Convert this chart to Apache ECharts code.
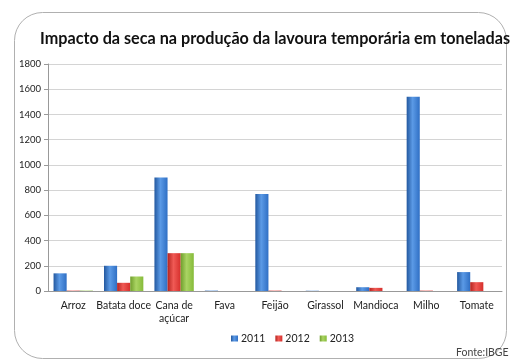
<!DOCTYPE html>
<html>
<head>
<meta charset="utf-8">
<script src="https://cdn.jsdelivr.net/npm/echarts@6/dist/echarts.min.js"></script>
<style>
  html, body { margin: 0; padding: 0; background: #ffffff; }
  #chart { width: 510px; height: 361px; }
</style>
</head>
<body>
<div id="chart"></div>
<script>
// Produção da lavoura temporária (toneladas) por cultura e ano
const culturas = ['Arroz', 'Batata doce', 'Cana de\naçúcar', 'Fava', 'Feijão', 'Girassol', 'Mandioca', 'Milho', 'Tomate'];
const anos = ['2011', '2012', '2013'];
const prod2011 = [140, 200, 900, 3, 770, 2, 30, 1540, 150];
const prod2012 = [3, 65, 300, 0, 3, 0, 25, 3, 70];
const prod2013 = [3, 115, 300, 0, 0, 0, 0, 0, 0];
const yTicks = { min: 0, max: 1800, interval: 200 };

function grad(light, mid, dark) {
  return new echarts.graphic.LinearGradient(0, 0, 1, 0, [
    { offset: 0, color: dark },
    { offset: 0.45, color: light },
    { offset: 1, color: mid }
  ]);
}
const cores = [
  grad('#5b9ae6', '#2f6fc4', '#23589f'),
  grad('#f05a55', '#d62f2c', '#b52420'),
  grad('#aad463', '#86bb3a', '#6f9e2c')
];
const series = [prod2011, prod2012, prod2013].map((d, i) => ({
  name: anos[i],
  type: 'bar',
  data: d,
  barGap: '0%',
  barCategoryGap: '22%',
  itemStyle: { color: cores[i] }
}));

const fonte = 'Lato';
const chart = echarts.init(document.getElementById('chart'), null, { renderer: 'canvas' });
chart.setOption({
  animation: false,
  backgroundColor: '#ffffff',
  title: {
    text: 'Impacto da seca na produção da lavoura temporária em toneladas',
    left: 35, top: 26,
    textStyle: { fontFamily: fonte, fontWeight: 'bold', fontSize: 16.2, color: '#111' }
  },
  graphic: [
    {
      type: 'rect',
      shape: { x: 14.5, y: 12.5, width: 492, height: 346, r: 28 },
      style: { fill: 'none', stroke: '#b0b0b0', lineWidth: 1 },
      z: -1
    },
    {
      type: 'text',
      left: 456, top: 347,
      style: { text: 'Fonte:IBGE', fontFamily: fonte, fontSize: 10.5, fill: '#444' }
    }
  ],
  legend: {
    data: anos,
    left: 226, top: 328,
    itemWidth: 7, itemHeight: 6, itemGap: 10,
    icon: 'rect',
    textStyle: { fontFamily: fonte, fontSize: 10.5, color: '#222', padding: [0, 0, 0, -2] }
  },
  grid: { left: 48, right: 8, top: 64, bottom: 70 },
  xAxis: {
    type: 'category',
    data: culturas,
    axisLine: { lineStyle: { color: '#999' } },
    axisTick: { lineStyle: { color: '#999' }, length: 4, alignWithLabel: false },
    axisLabel: { fontFamily: fonte, fontSize: 10.5, color: '#222', interval: 0, margin: 8, lineHeight: 13 }
  },
  yAxis: {
    type: 'value',
    min: yTicks.min, max: yTicks.max, interval: yTicks.interval,
    axisLine: { show: true, lineStyle: { color: '#999' } },
    axisTick: { show: true, length: 4, lineStyle: { color: '#999' } },
    axisLabel: { fontFamily: fonte, fontSize: 9.5, color: '#222', margin: 7, formatter: v => String(v) },
    splitLine: { lineStyle: { color: '#d4d4d4' } }
  },
  series: series
});
</script>
</body>
</html>
